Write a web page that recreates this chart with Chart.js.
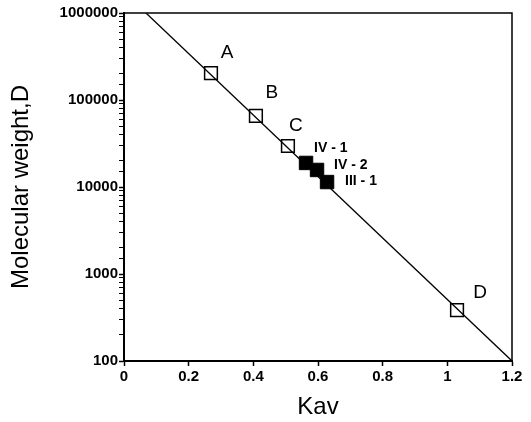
<!DOCTYPE html>
<html>
<head>
<meta charset="utf-8">
<script src="https://cdn.jsdelivr.net/npm/chart.js@4/dist/chart.umd.min.js"></script>
<style>
  html, body { margin: 0; padding: 0; background: #fff; }
  #wrap { width: 531px; height: 422px; }
</style>
</head>
<body>
<div id="wrap"><canvas id="chart" width="531" height="422"></canvas></div>
<script>
// standards (open squares) and fractions (filled squares)
let stdNames = ['A', 'B', 'C', 'D'];
let stdKav = [0.269, 0.408, 0.507, 1.03];
let stdMW = [204000, 65500, 29600, 385];

let fracNames = ['IV - 1', 'IV - 2', 'III - 1'];
let fracKav = [0.563, 0.597, 0.628];
let fracMW = [18900, 15700, 11400];

// calibration line end points
let lineKav = [0.068, 1.2];
let lineMW = [1000000, 100];

let xTicks = [0, 0.2, 0.4, 0.6, 0.8, 1, 1.2];
let xLabels = ['0', '0.2', '0.4', '0.6', '0.8', '1', '1.2'];
let yTicks = [100, 1000, 10000, 100000, 1000000];

function pts(xs, ys) {
  let out = [];
  for (let i = 0; i < xs.length; i++) out.push({ x: xs[i], y: ys[i] });
  return out;
}

const labelPlugin = {
  id: 'pointLabels',
  afterDatasetsDraw(chart) {
    let ctx = chart.ctx;
    ctx.save();
    ctx.fillStyle = '#000';
    ctx.textBaseline = 'middle';
    // standards
    let stdOffsets = [[16, -20], [16, -23], [8, -20], [23, -17]];
    let m1 = chart.getDatasetMeta(1);
    ctx.font = '19px "Liberation Sans", Arial, sans-serif';
    ctx.textAlign = 'center';
    m1.data.forEach((p, i) => {
      ctx.fillText(stdNames[i], p.x + stdOffsets[i][0], p.y + stdOffsets[i][1]);
    });
    // fractions
    let fracOffsets = [[8, -15], [17, -5], [18, -1]];
    let m2 = chart.getDatasetMeta(2);
    ctx.font = 'bold 14px "Liberation Sans", Arial, sans-serif';
    ctx.textAlign = 'left';
    m2.data.forEach((p, i) => {
      ctx.fillText(fracNames[i], p.x + fracOffsets[i][0], p.y + fracOffsets[i][1]);
    });
    ctx.restore();
  }
};

const framePlugin = {
  id: 'frame',
  afterDraw(chart) {
    let a = chart.chartArea, ctx = chart.ctx;
    ctx.save();
    ctx.strokeStyle = '#000';
    ctx.lineWidth = 1.5;
    ctx.beginPath();
    ctx.moveTo(a.left, a.top);
    ctx.lineTo(a.right, a.top);
    ctx.lineTo(a.right, a.bottom);
    ctx.stroke();
    ctx.restore();
  }
};

new Chart(document.getElementById('chart'), {
  type: 'scatter',
  data: {
    datasets: [
      {
        type: 'line',
        data: pts(lineKav, lineMW),
        borderColor: '#000',
        borderWidth: 1.3,
        pointRadius: 0,
        fill: false
      },
      {
        data: pts(stdKav, stdMW),
        pointStyle: 'rect',
        pointRadius: 9,
        backgroundColor: '#fff',
        borderColor: '#000',
        borderWidth: 1.5
      },
      {
        data: pts(fracKav, fracMW),
        pointStyle: 'rect',
        pointRadius: 9.5,
        backgroundColor: '#000',
        borderColor: '#000',
        borderWidth: 1
      }
    ]
  },
  options: {
    responsive: false,
    animation: false,
    events: [],
    layout: { padding: { top: 13, right: 19, left: 7, bottom: 0 } },
    plugins: {
      legend: { display: false },
      tooltip: { enabled: false }
    },
    scales: {
      x: {
        type: 'linear',
        min: 0,
        max: 1.2,
        afterBuildTicks: s => { s.ticks = xTicks.map(v => ({ value: v })); },
        afterFit: s => { s.height = 61; },
        border: { display: true, color: '#000', width: 2 },
        grid: { drawOnChartArea: false, drawTicks: true, tickLength: 5, tickColor: '#000', tickWidth: 1.5 },
        ticks: {
          color: '#000',
          padding: 2,
          font: { family: '"Liberation Sans", Arial, sans-serif', size: 15, weight: 'bold' },
          callback: (v, i) => xLabels[i]
        },
        title: {
          display: true,
          text: 'Kav',
          color: '#000',
          padding: { top: 4, bottom: 0 },
          font: { family: '"Liberation Sans", Arial, sans-serif', size: 24 }
        }
      },
      y: {
        type: 'logarithmic',
        min: 100,
        max: 1000000,
        afterFit: s => { s.width = 117; },
        border: { display: true, color: '#000', width: 2 },
        grid: {
          drawOnChartArea: false,
          drawTicks: true,
          tickLength: 5,
          tickColor: '#000',
          tickWidth: c => (yTicks.indexOf(c.tick.value) >= 0 ? 1.5 : 1)
        },
        ticks: {
          color: '#000',
          autoSkip: false,
          padding: 1,
          font: { family: '"Liberation Sans", Arial, sans-serif', size: 15, weight: 'bold' },
          callback: v => (yTicks.indexOf(v) >= 0 ? String(v) : '')
        },
        title: {
          display: true,
          text: 'Molecular weight,D',
          color: '#000',
          padding: { top: 0, bottom: 0 },
          font: { family: '"Liberation Sans", Arial, sans-serif', size: 24 }
        }
      }
    }
  },
  plugins: [labelPlugin, framePlugin]
});
</script>
</body>
</html>
